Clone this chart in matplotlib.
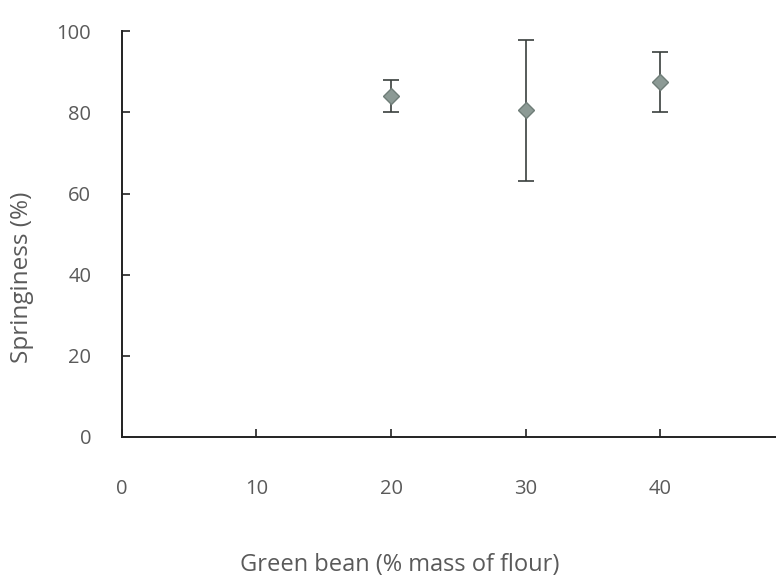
import matplotlib
matplotlib.use("Agg")
import matplotlib.pyplot as plt
import numpy as np

x_vals = [20, 30, 40]
springiness = [84.0, 80.5, 87.4]
err_low = [80.2, 63.0, 80.2]
err_high = [88.0, 97.8, 94.8]
x_ticks = [0, 10, 20, 30, 40]
y_ticks = [0, 20, 40, 60, 80, 100]

plt.rcParams['font.family'] = ['Open Sans', 'DejaVu Sans']

fig = plt.figure(figsize=(7.76, 5.78), dpi=100)
ax = fig.add_axes([0.157, 0.244, 0.843, 0.702])

y = np.array(springiness)
yerr = np.array([y - np.array(err_low), np.array(err_high) - y])
ax.errorbar(x_vals, y, yerr=yerr, fmt='D', color='#8c9a95', markersize=8,
            markeredgecolor='#6f7d78', ecolor='#3a3f3d', elinewidth=1.2,
            capsize=6, capthick=1.2, zorder=3)

ax.set_xlim(0, 48.6)
ax.set_ylim(0, 100)
ax.set_xticks(x_ticks)
ax.set_yticks(y_ticks)
ax.spines['top'].set_visible(False)
ax.spines['right'].set_visible(False)
for s in ['left', 'bottom']:
    ax.spines[s].set_color('#222222')
    ax.spines[s].set_linewidth(1.4)
ax.tick_params(axis='both', direction='in', length=6, width=1.2, color='#222222',
               labelsize=14.5, labelcolor='#5a5a5a')
ax.tick_params(axis='x', pad=30)
ax.tick_params(axis='y', pad=22)

ax.set_xlabel('Green bean (% mass of flour)', fontsize=17, color='#5a5a5a')
ax.set_ylabel('Springiness (%)', fontsize=17.5, color='#5a5a5a')
ax.xaxis.set_label_coords(0.425, -0.315)
ax.xaxis.label.set_va('center')
ax.yaxis.set_label_coords(-0.153, 0.394)
ax.yaxis.label.set_va('center')

fig.savefig('out.png', dpi=100)
